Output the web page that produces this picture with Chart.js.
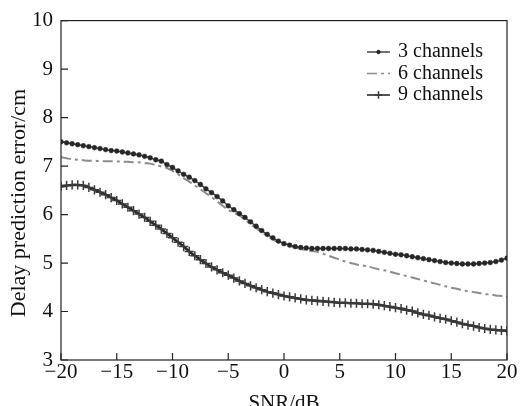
<!DOCTYPE html>
<html>
<head>
<meta charset="utf-8">
<script src="https://cdn.jsdelivr.net/npm/chart.js@4.4.1/dist/chart.umd.min.js"></script>
<style>
  html, body { margin: 0; padding: 0; background: #fff; }
</style>
</head>
<body>
<canvas id="myChart" width="520" height="406"></canvas>
<script>
// SNR sweep (dB), one sample every 0.5 dB
const snr = [
  -20, -19.5, -19, -18.5, -18, -17.5, -17, -16.5, -16, -15.5,
  -15, -14.5, -14, -13.5, -13, -12.5, -12, -11.5, -11, -10.5,
  -10, -9.5, -9, -8.5, -8, -7.5, -7, -6.5, -6, -5.5,
  -5, -4.5, -4, -3.5, -3, -2.5, -2, -1.5, -1, -0.5,
  0, 0.5, 1, 1.5, 2, 2.5, 3, 3.5, 4, 4.5,
  5, 5.5, 6, 6.5, 7, 7.5, 8, 8.5, 9, 9.5,
  10, 10.5, 11, 11.5, 12, 12.5, 13, 13.5, 14, 14.5,
  15, 15.5, 16, 16.5, 17, 17.5, 18, 18.5, 19, 19.5,
  20
];

// delay prediction error (cm)
const ch3 = [
  7.50, 7.48, 7.46, 7.44, 7.42, 7.40, 7.38, 7.36, 7.34, 7.32,
  7.31, 7.29, 7.27, 7.25, 7.23, 7.20, 7.17, 7.13, 7.10, 7.03,
  6.97, 6.90, 6.83, 6.77, 6.70, 6.62, 6.53, 6.45, 6.37, 6.28,
  6.18, 6.10, 6.02, 5.94, 5.85, 5.76, 5.67, 5.59, 5.52, 5.45,
  5.40, 5.37, 5.34, 5.32, 5.31, 5.30, 5.30, 5.30, 5.30, 5.30,
  5.30, 5.30, 5.29, 5.29, 5.28, 5.27, 5.26, 5.24, 5.22, 5.20,
  5.18, 5.17, 5.15, 5.13, 5.11, 5.09, 5.07, 5.05, 5.03, 5.01,
  5.00, 4.99, 4.98, 4.98, 4.98, 4.99, 5.00, 5.01, 5.03, 5.06,
  5.10
];

const ch6 = [
  7.18, 7.16, 7.14, 7.13, 7.12, 7.11, 7.11, 7.10, 7.10, 7.10,
  7.10, 7.09, 7.09, 7.08, 7.08, 7.06, 7.05, 7.02, 6.99, 6.96,
  6.90, 6.83, 6.75, 6.68, 6.60, 6.52, 6.44, 6.36, 6.27, 6.18,
  6.09, 6.04, 5.98, 5.89, 5.80, 5.72, 5.64, 5.56, 5.49, 5.43,
  5.38, 5.35, 5.32, 5.29, 5.27, 5.25, 5.23, 5.19, 5.15, 5.11,
  5.07, 5.03, 5.00, 4.97, 4.95, 4.93, 4.90, 4.87, 4.85, 4.82,
  4.79, 4.76, 4.73, 4.70, 4.67, 4.64, 4.61, 4.58, 4.55, 4.52,
  4.49, 4.47, 4.44, 4.42, 4.40, 4.38, 4.36, 4.35, 4.33, 4.32,
  4.31
];

const ch9 = [
  6.58, 6.60, 6.61, 6.61, 6.60, 6.56, 6.51, 6.46, 6.41, 6.35,
  6.29, 6.22, 6.15, 6.08, 6.01, 5.94, 5.86, 5.78, 5.70, 5.61,
  5.52, 5.43, 5.34, 5.24, 5.15, 5.07, 4.99, 4.92, 4.86, 4.80,
  4.75, 4.69, 4.63, 4.58, 4.53, 4.49, 4.45, 4.41, 4.38, 4.35,
  4.32, 4.30, 4.28, 4.26, 4.24, 4.23, 4.22, 4.21, 4.20, 4.19,
  4.18, 4.18, 4.17, 4.17, 4.16, 4.16, 4.15, 4.14, 4.12, 4.10,
  4.08, 4.06, 4.03, 4.01, 3.97, 3.94, 3.92, 3.89, 3.86, 3.84,
  3.81, 3.78, 3.75, 3.72, 3.70, 3.67, 3.65, 3.63, 3.62, 3.61,
  3.60
];

const seriesNames = ["3 channels", "6 channels", "9 channels"];
const xTitle = "SNR/dB";
const yTitle = "Delay prediction error/cm";

const serif = "'Liberation Serif', 'Times New Roman', serif";
const toPoints = ys => snr.map((x, i) => ({ x: x, y: ys[i] }));

// box round the plot area + short ticks pointing inwards
const frame = {
  id: "frame",
  afterDatasetsDraw(chart) {
    const { ctx, chartArea: a, scales } = chart;
    ctx.save();
    ctx.strokeStyle = "#222";
    ctx.lineWidth = 1.2;
    ctx.strokeRect(a.left, a.top, a.right - a.left, a.bottom - a.top);
    ctx.beginPath();
    scales.x.ticks.forEach(t => {
      const px = scales.x.getPixelForValue(t.value);
      ctx.moveTo(px, a.bottom);
      ctx.lineTo(px, a.bottom - 7);
    });
    scales.y.ticks.forEach(t => {
      const py = scales.y.getPixelForValue(t.value);
      ctx.moveTo(a.left, py);
      ctx.lineTo(a.left + 7, py);
    });
    ctx.stroke();
    ctx.restore();
  }
};

// legend in the top right corner: line sample with its marker, then the name
const cornerLegend = {
  id: "cornerLegend",
  afterDraw(chart) {
    const ctx = chart.ctx;
    const x0 = 367, x1 = 390, tx = 398;
    const rows = [52, 73.5, 95];
    ctx.save();
    chart.data.datasets.forEach((ds, i) => {
      const y = rows[i];
      ctx.strokeStyle = ds.borderColor;
      ctx.lineWidth = Math.min(ds.borderWidth, 1.6);
      ctx.setLineDash(ds.borderDash || []);
      ctx.beginPath();
      ctx.moveTo(x0, y);
      ctx.lineTo(x1, y);
      ctx.stroke();
      ctx.setLineDash([]);
      if (ds.pointRadius > 0) {
        ctx.fillStyle = ds.pointBackgroundColor;
        ctx.strokeStyle = ds.pointBorderColor;
        ctx.lineWidth = ds.pointBorderWidth;
        Chart.helpers.drawPoint(ctx, {
          pointStyle: ds.pointStyle,
          radius: ds.pointRadius * 0.8,
          borderWidth: ds.pointBorderWidth,
          rotation: 0
        }, (x0 + x1) / 2, y);
      }
      ctx.fillStyle = "#111";
      ctx.font = "20px " + serif;
      ctx.textAlign = "left";
      ctx.textBaseline = "middle";
      ctx.fillText(ds.label, tx, y);
    });
    ctx.restore();
  }
};

// rotated y axis title
const yAxisTitle = {
  id: "yAxisTitle",
  afterDraw(chart) {
    const ctx = chart.ctx;
    ctx.save();
    ctx.translate(19.5, 203);
    ctx.rotate(-Math.PI / 2);
    ctx.fillStyle = "#111";
    ctx.font = "22px " + serif;
    ctx.textAlign = "center";
    ctx.textBaseline = "middle";
    ctx.fillText(yTitle, 0, 0);
    ctx.restore();
  }
};

Chart.defaults.font.family = serif;
Chart.defaults.color = "#111";

const ctx = document.getElementById("myChart").getContext("2d");

const chart = new Chart(ctx, {
  type: "line",
  data: {
    datasets: [
      {
        label: seriesNames[0],
        data: toPoints(ch3),
        borderColor: "#3a3a3a",
        borderWidth: 1.4,
        pointStyle: "circle",
        pointRadius: 2.4,
        pointBackgroundColor: "#262626",
        pointBorderColor: "#262626",
        pointBorderWidth: 0.5,
        tension: 0.3
      },
      {
        label: seriesNames[1],
        data: toPoints(ch6),
        borderColor: "#8c8c8c",
        borderWidth: 2,
        borderDash: [10, 4, 3, 4],
        pointRadius: 0,
        tension: 0.3
      },
      {
        label: seriesNames[2],
        data: toPoints(ch9),
        borderColor: "#2a2a2a",
        borderWidth: 2.6,
        pointStyle: "cross",
        pointRadius: 4.6,
        pointBackgroundColor: "#3a3a3a",
        pointBorderColor: "#3a3a3a",
        pointBorderWidth: 1.5,
        tension: 0.3
      }
    ]
  },
  options: {
    responsive: false,
    animation: false,
    layout: { padding: { top: 20, right: 13, left: 0, bottom: 0 } },
    plugins: {
      legend: { display: false },
      tooltip: { enabled: false }
    },
    scales: {
      x: {
        type: "linear",
        min: -20,
        max: 20,
        afterFit: scale => { scale.height = 46; },
        grid: { display: false, drawTicks: false },
        border: { display: false },
        ticks: {
          stepSize: 5,
          padding: 0,
          maxRotation: 0,
          font: { size: 21 },
          callback: v => (v < 0 ? "\u2212" + Math.abs(v) : String(v))
        },
        title: {
          display: true,
          text: xTitle,
          font: { size: 21, lineHeight: 1 },
          padding: { top: 0, bottom: -8 }
        }
      },
      y: {
        min: 3,
        max: 10,
        afterFit: scale => { scale.width = 61; },
        grid: { display: false, drawTicks: false },
        border: { display: false },
        ticks: {
          stepSize: 1,
          padding: 8,
          font: { size: 21 }
        }
      }
    }
  },
  plugins: [frame, cornerLegend, yAxisTitle]
});
</script>
</body>
</html>
